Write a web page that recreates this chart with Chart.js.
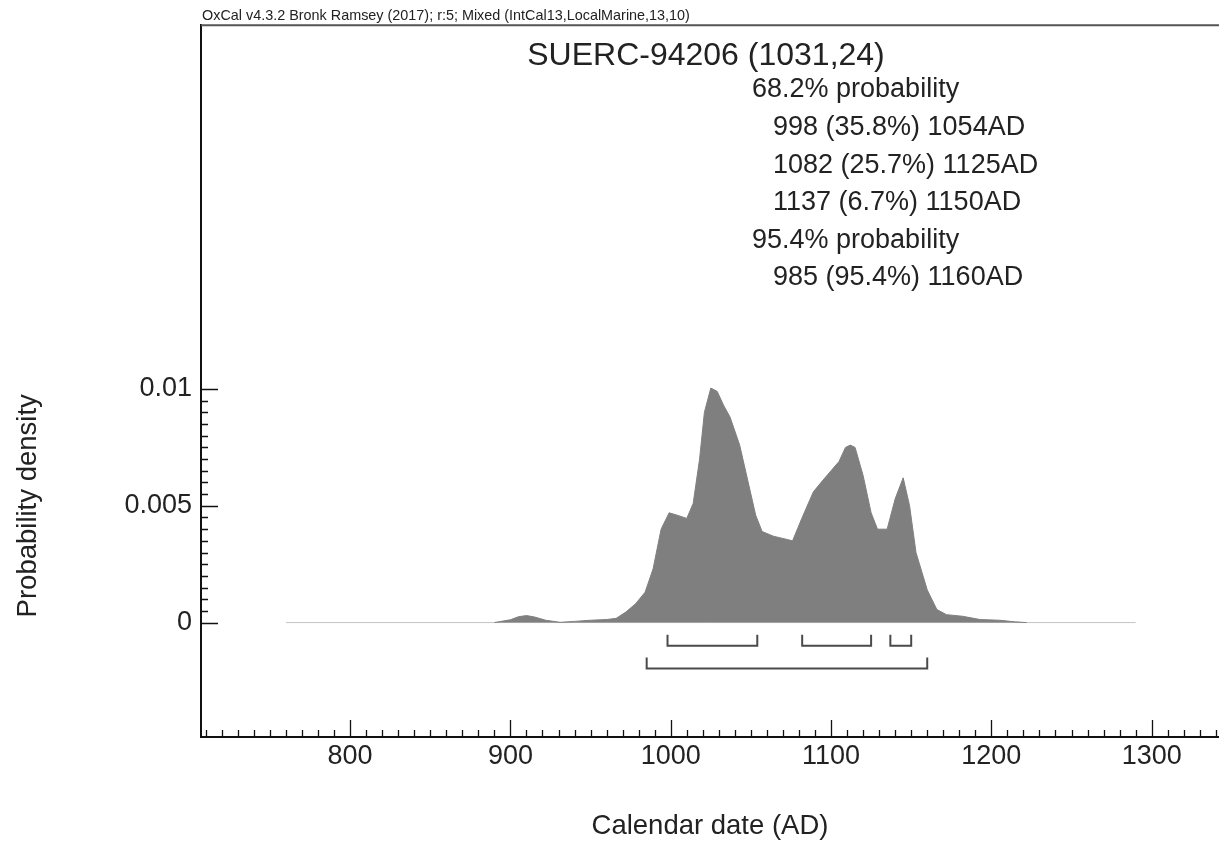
<!DOCTYPE html>
<html lang="en">
<head>
    <meta charset="UTF-8">
    <title>SUERC-94206 calibration</title>
    <script src="https://cdn.jsdelivr.net/npm/chart.js@4.4.1/dist/chart.umd.min.js"></script>
    <style>
        body { margin: 0; background: #fff; }
        #wrap { width: 1219px; height: 843px; }
    </style>
</head>
<body>
<div id="wrap"><canvas id="myChart" width="1219" height="843"></canvas></div>
<script>
// calibrated probability density (years AD -> density)
var years = [890, 900, 905, 910, 915, 922, 931, 940, 950, 960, 966, 972, 978, 984, 989, 994, 999, 1004, 1010, 1014, 1018, 1021, 1025, 1029, 1033, 1037, 1043, 1048, 1053, 1057, 1064, 1070, 1076, 1082, 1089, 1095, 1100, 1105, 1109, 1112, 1115, 1120, 1125, 1129, 1135, 1140, 1145, 1149, 1153, 1160, 1166, 1172, 1182, 1193, 1205, 1215, 1222]
var density = [0, 0.00012, 0.00025, 0.0003, 0.00024, 0.0001, 0.00001, 0.00005, 0.0001, 0.00013, 0.00018, 0.00045, 0.0008, 0.0013, 0.0023, 0.004, 0.0047, 0.0046, 0.00446, 0.0051, 0.007, 0.009, 0.01004, 0.0099, 0.0093, 0.0088, 0.0076, 0.0061, 0.0046, 0.0039, 0.0037, 0.0036, 0.0035, 0.0045, 0.0056, 0.0061, 0.0065, 0.0069, 0.0075, 0.0076, 0.0075, 0.0063, 0.0047, 0.004, 0.004, 0.0053, 0.0062, 0.005, 0.003, 0.0014, 0.00056, 0.00034, 0.00027, 0.00013, 0.0001, 0.00003, 0]

// calibration range
var baselineYears = [760, 1290]

// 68.2% and 95.4% ranges
var range68From = [998, 1082, 1137]
var range68To = [1054, 1125, 1150]
var range95From = [985]
var range95To = [1160]

var xTicks = [800, 900, 1000, 1100, 1200, 1300]
var xTickLabels = ['800', '900', '1000', '1100', '1200', '1300']
var yTicks = [0, 0.005, 0.01]
var yTickLabels = ['0', '0.005', '0.01']

var headerText = 'OxCal v4.3.2 Bronk Ramsey (2017); r:5; Mixed (IntCal13,LocalMarine,13,10)'
var sampleTitle = 'SUERC-94206 (1031,24)'
var summaryLines = ['68.2% probability', '998 (35.8%) 1054AD', '1082 (25.7%) 1125AD', '1137 (6.7%) 1150AD', '95.4% probability', '985 (95.4%) 1160AD']
var summaryIndent = [0, 1, 1, 1, 0, 1]

var FONT = "'Liberation Sans', Arial, sans-serif"

function bracket(from, to, top, bottom) {
    return {
        data: [{x: from, y: top}, {x: from, y: bottom}, {x: to, y: bottom}, {x: to, y: top}],
        showLine: true,
        borderColor: '#4a4a4a',
        borderWidth: 2,
        pointRadius: 0,
        fill: false
    }
}

var datasets = [{
    data: years.map(function (y, i) { return {x: y, y: density[i]} }),
    showLine: true,
    borderColor: '#7f7f7f',
    borderWidth: 1,
    backgroundColor: '#7f7f7f',
    pointRadius: 0,
    fill: 'origin'
}, {
    data: baselineYears.map(function (y) { return {x: y, y: 0} }),
    showLine: true,
    borderColor: '#c4c4c4',
    borderWidth: 1,
    pointRadius: 0,
    fill: false
}]
range68From.forEach(function (f, i) { datasets.push(bracket(f, range68To[i], -0.00052, -0.00099)) })
range95From.forEach(function (f, i) { datasets.push(bracket(f, range95To[i], -0.0015, -0.00197)) })

var decor = {
    id: 'decor',
    afterDraw: function (chart) {
        var ctx = chart.ctx
        var xs = chart.scales.x, ys = chart.scales.y
        var area = chart.chartArea
        ctx.save()

        // top frame line
        ctx.strokeStyle = '#555'
        ctx.lineWidth = 2
        ctx.beginPath()
        ctx.moveTo(area.left, area.top)
        ctx.lineTo(area.right, area.top)
        ctx.stroke()

        // inward ticks
        ctx.strokeStyle = '#111'
        ctx.lineWidth = 1.3
        ctx.beginPath()
        for (var v = 710; v <= xs.max; v += 10) {
            var px = Math.round(xs.getPixelForValue(v)) + 0.5
            var len = (v % 100 === 0) ? 17 : 7
            ctx.moveTo(px, area.bottom)
            ctx.lineTo(px, area.bottom - len)
        }
        for (var k = 0; k <= 20; k++) {
            var val = k * 0.0005
            var py = Math.round(ys.getPixelForValue(val)) + 0.5
            var l2 = (k % 10 === 0) ? 17 : 7
            ctx.moveTo(area.left, py)
            ctx.lineTo(area.left + l2, py)
        }
        ctx.stroke()

        ctx.fillStyle = '#222'
        // header
        ctx.font = '14.4px ' + FONT
        ctx.textAlign = 'left'
        ctx.textBaseline = 'alphabetic'
        ctx.fillText(headerText, area.left + 1, 20)

        // title
        ctx.font = '32px ' + FONT
        ctx.textAlign = 'center'
        ctx.textBaseline = 'middle'
        ctx.fillText(sampleTitle, 706, 56)

        // summary
        ctx.font = '27px ' + FONT
        ctx.textAlign = 'left'
        summaryLines.forEach(function (s, i) {
            ctx.fillText(s, 752 + summaryIndent[i] * 21, 90 + i * 37.6)
        })

        // y title
        ctx.save()
        ctx.font = '27.5px ' + FONT
        ctx.translate(28, ys.getPixelForValue(0.005))
        ctx.rotate(-Math.PI / 2)
        ctx.textAlign = 'center'
        ctx.textBaseline = 'middle'
        ctx.fillText('Probability density', 0, 0)
        ctx.restore()

        ctx.restore()
    }
}

var ctx = document.getElementById('myChart').getContext('2d')
var chart = new Chart(ctx, {
    type: 'scatter',
    data: { datasets: datasets },
    options: {
        responsive: false,
        animation: false,
        devicePixelRatio: 1,
        layout: { padding: { top: 24, right: 0, left: 0, bottom: 0 } },
        plugins: { legend: { display: false }, tooltip: { enabled: false } },
        scales: {
            x: {
                type: 'linear',
                min: 707,
                max: 1342,
                afterBuildTicks: function (scale) { scale.ticks = xTicks.map(function (v) { return {value: v} }) },
                afterFit: function (scale) { scale.height = 106 },
                ticks: {
                    color: '#222',
                    padding: 3,
                    font: { family: FONT, size: 27 },
                    callback: function (value, index) { return xTickLabels[index] }
                },
                grid: { display: false, drawTicks: false },
                border: { display: true, color: '#111', width: 2 },
                title: {
                    display: true,
                    text: 'Calendar date (AD)',
                    color: '#222',
                    font: { family: FONT, size: 27.5 },
                    padding: { top: 0, bottom: 0 }
                }
            },
            y: {
                type: 'linear',
                min: -0.0049,
                max: 0.02558,
                afterBuildTicks: function (scale) { scale.ticks = yTicks.map(function (v) { return {value: v} }) },
                afterFit: function (scale) { scale.width = 201 },
                ticks: {
                    color: '#222',
                    padding: 9,
                    font: { family: FONT, size: 27 },
                    callback: function (value, index) { return yTickLabels[index] }
                },
                grid: { display: false, drawTicks: false },
                border: { display: true, color: '#111', width: 2 }
            }
        }
    },
    plugins: [decor]
})
</script>
</body>
</html>
